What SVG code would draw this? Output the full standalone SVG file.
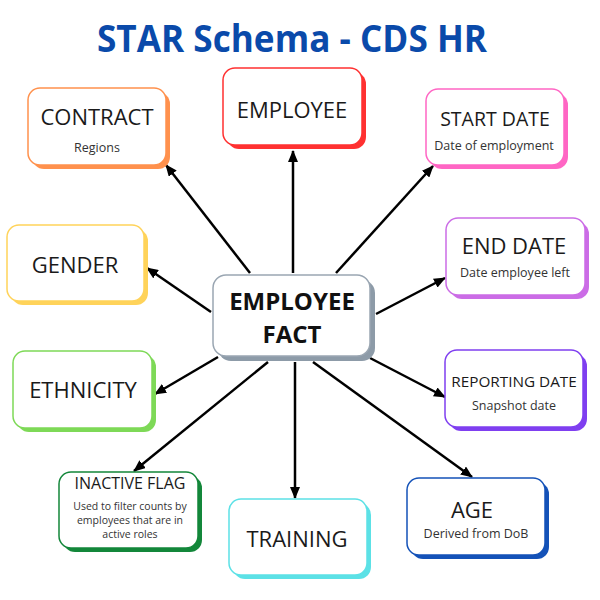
<svg xmlns="http://www.w3.org/2000/svg" width="600" height="600" viewBox="0 0 600 600">
<style>
  .box { fill: #ffffff; stroke-width: 1.5; }
  .t { font-family: "Open Sans", "Noto Sans", "Liberation Sans", sans-serif; fill: #1a1a1a; text-anchor: middle; }
  .h { font-size: 22px; }
  .s { font-size: 12.5px; fill: #333333; }
  .xs { font-size: 10.5px; fill: #333333; }
  .title { font-family: "Open Sans", "Noto Sans", "Liberation Sans", sans-serif; font-weight: 700; font-size: 38px; fill: #0A4AAA; text-anchor: middle; }
  .fact { font-family: "Open Sans", "Noto Sans", "Liberation Sans", sans-serif; font-weight: 700; font-size: 24px; fill: #111111; text-anchor: middle; }
  .conn line { stroke: #000000; stroke-width: 2.5; marker-end: url(#arr); }
</style>
<defs>
  <marker id="arr" viewBox="0 0 12 10" refX="11" refY="5" markerWidth="12" markerHeight="10" markerUnits="userSpaceOnUse" orient="auto">
    <path d="M0,0 L12,5 L0,10 Z" fill="#000000"/>
  </marker>
</defs>
<rect width="600" height="600" fill="#ffffff"/>
<text class="title" x="292" y="52" textLength="390" lengthAdjust="spacingAndGlyphs">STAR Schema - CDS HR</text>

<g class="conn" id="connectors">
  <line x1="250" y1="273" x2="166" y2="165"/>
  <line x1="293" y1="273" x2="293" y2="151"/>
  <line x1="336" y1="273" x2="433" y2="166"/>
  <line x1="211" y1="312" x2="147" y2="268"/>
  <line x1="376" y1="314" x2="445" y2="278"/>
  <line x1="218" y1="357" x2="155" y2="394"/>
  <line x1="370" y1="358" x2="445" y2="397"/>
  <line x1="268" y1="362" x2="134" y2="471"/>
  <line x1="295" y1="362" x2="295" y2="498"/>
  <line x1="313" y1="362" x2="472" y2="477"/>
</g>

<g id="contract">
  <rect x="32" y="92" width="138" height="77" rx="12" fill="#FF914D"/>
  <rect class="box" x="28" y="88" width="138" height="77" rx="12" stroke="#FF914D"/>
  <text class="t h" x="97" y="125">CONTRACT</text>
  <text class="t s" x="97" y="152">Regions</text>
</g>

<g id="employee">
  <rect x="227" y="72" width="139" height="77" rx="12" fill="#FF3131"/>
  <rect class="box" x="223" y="68" width="139" height="77" rx="12" stroke="#FF3131"/>
  <text class="t h" x="292" y="118">EMPLOYEE</text>
</g>

<g id="start-date">
  <rect x="430" y="93" width="138" height="76" rx="12" fill="#FF66C4"/>
  <rect class="box" x="426" y="89" width="138" height="76" rx="12" stroke="#FF66C4"/>
  <text class="t" x="495" y="126" font-size="19.5">START DATE</text>
  <text class="t s" x="494" y="150">Date of employment</text>
</g>

<g id="gender">
  <rect x="11" y="229" width="137" height="76" rx="12" fill="#FFD35A"/>
  <rect class="box" x="7" y="225" width="137" height="76" rx="12" stroke="#FFD35A"/>
  <text class="t h" x="75" y="273">GENDER</text>
</g>

<g id="end-date">
  <rect x="450" y="222" width="139" height="77" rx="12" fill="#CB6CE6"/>
  <rect class="box" x="446" y="218" width="139" height="77" rx="12" stroke="#CB6CE6"/>
  <text class="t h" x="514" y="254">END DATE</text>
  <text class="t s" x="515" y="277">Date employee left</text>
</g>

<g id="employee-fact">
  <rect x="218" y="280" width="157" height="81" rx="13" fill="#8D9BA8"/>
  <rect x="213" y="275" width="157" height="81" rx="13" fill="#ffffff" stroke="#9AA6B2" stroke-width="1.5"/>
  <text class="fact" x="292" y="310">EMPLOYEE</text>
  <text class="fact" x="292" y="343">FACT</text>
</g>

<g id="ethnicity">
  <rect x="17" y="355" width="139" height="77" rx="12" fill="#7ED957"/>
  <rect class="box" x="13" y="351" width="139" height="77" rx="12" stroke="#7ED957"/>
  <text class="t h" x="83" y="398">ETHNICITY</text>
</g>

<g id="reporting-date">
  <rect x="449" y="354" width="138" height="77" rx="12" fill="#7F3FF0"/>
  <rect class="box" x="445" y="350" width="138" height="77" rx="12" stroke="#7F3FF0"/>
  <text class="t" x="514" y="387" font-size="15.3">REPORTING DATE</text>
  <text class="t s" x="514" y="410">Snapshot date</text>
</g>

<g id="inactive-flag">
  <rect x="63" y="476" width="139" height="76" rx="12" fill="#13873A"/>
  <rect class="box" x="59" y="472" width="139" height="76" rx="12" stroke="#13873A"/>
  <text class="t" x="130" y="489" font-size="16">INACTIVE FLAG</text>
  <text class="t xs" x="130" y="510">Used to filter counts by</text>
  <text class="t xs" x="130" y="524">employees that are in</text>
  <text class="t xs" x="130" y="538">active roles</text>
</g>

<g id="training">
  <rect x="233" y="503" width="138" height="76" rx="12" fill="#5CE1E6"/>
  <rect class="box" x="229" y="499" width="138" height="76" rx="12" stroke="#5CE1E6"/>
  <text class="t h" x="297" y="547">TRAINING</text>
</g>

<g id="age">
  <rect x="411" y="482" width="138" height="77" rx="12" fill="#1452B8"/>
  <rect class="box" x="407" y="478" width="138" height="77" rx="12" stroke="#1452B8"/>
  <text class="t h" x="472" y="518">AGE</text>
  <text class="t s" x="476" y="538">Derived from DoB</text>
</g>
</svg>
